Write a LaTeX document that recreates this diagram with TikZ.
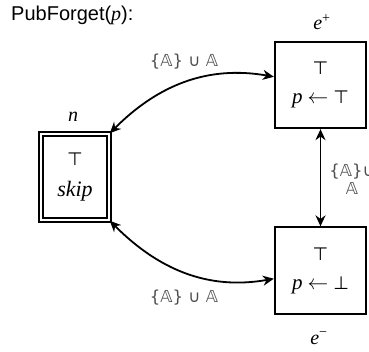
\documentclass[tikz,border=0pt]{standalone}
\usepackage{fontspec}
\setmainfont{Liberation Serif}
\setsansfont{Liberation Sans}
\newfontfamily\symf{DejaVu Sans}
\usetikzlibrary{arrows.meta}
\newcommand{\myarrow}{{\fontsize{21}{21}\selectfont$\leftarrow$}}
\begin{document}
\begin{tikzpicture}[x=1pt,y=1pt,
  box/.style={draw, line width=1.8pt, minimum width=91.5pt, minimum height=86.5pt, inner sep=0pt, align=center, font=\fontsize{19}{29}\selectfont},
  dbox/.style={draw, double, line width=1.5pt, double distance=2.6pt, minimum width=68.2pt, minimum height=86.2pt, inner sep=0pt, align=center, font=\fontsize{19}{31}\selectfont},
  conn/.style={line width=1.8pt, {Stealth[length=11pt,width=10pt]}-{Stealth[length=11pt,width=10pt]}},
  lbl/.style={text=black!70, font=\symf\fontsize{16.5}{18}\selectfont, inner sep=0pt},
  captxt/.style={font=\fontsize{20}{24}\selectfont\itshape, inner sep=0pt},
  sym/.style={}
]
\useasboundingbox (0,0) rectangle (369,352);
\node[anchor=west, inner sep=0pt, font=\sffamily\fontsize{20}{24}\selectfont] (title) at (11,337) {PubForget({\rmfamily\itshape p}):};
\node[dbox] (n) at (75,175) {{\symf\fontsize{18}{18}\selectfont ⊤}\\{\itshape\fontsize{22}{31}\selectfont skip}};
\node[box] (ep) at (320.5,267) {{\symf\fontsize{18}{18}\selectfont ⊤}\\{\itshape\fontsize{21}{29}\selectfont p}\hspace{5pt}\myarrow\hspace{5pt}{\symf\fontsize{18}{18}\selectfont ⊤}};
\node[box] (em) at (320.5,81.5) {{\symf\fontsize{18}{18}\selectfont ⊤}\\{\itshape\fontsize{21}{29}\selectfont p}\hspace{5pt}\myarrow\hspace{5pt}{\symf\fontsize{18}{18}\selectfont ⊥}};
\node[captxt] (nl) at (73,235) {n};
\node[captxt] (epl) at (322,330) {e\textsuperscript{\upshape +}};
\node[captxt] (eml) at (319,14) {e\textsuperscript{\upshape −}};
\draw[conn] (n.north east) to[out=45,in=170] (ep.170);
\draw[conn] (n.south east) to[out=-45,in=190] (em.190);
\draw[conn] (ep.south) -- (em.north);
\node[lbl] (tl) at (184,290) {\{𝔸\} ∪ 𝔸};
\node[lbl] (bl) at (184,54) {\{𝔸\} ∪ 𝔸};
\node[lbl, align=center] (vl) at (352,173) {\{𝔸\}∪\\𝔸};
\end{tikzpicture}
\end{document}
